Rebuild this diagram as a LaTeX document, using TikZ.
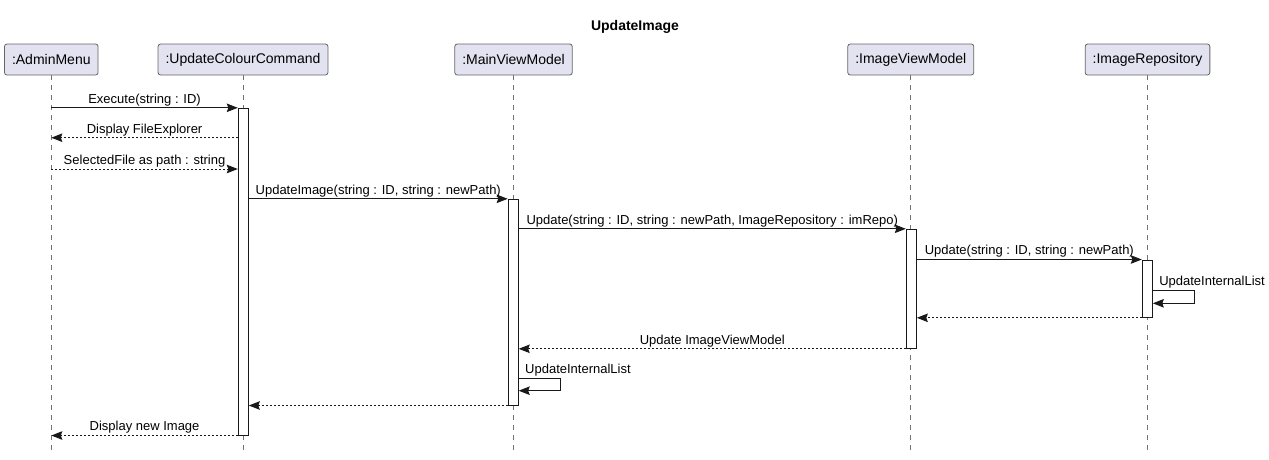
\documentclass[tikz,border=0pt]{standalone}
\usepackage{fontspec}
\setmainfont{Liberation Sans}
\usepackage{tikz}
\usetikzlibrary{positioning}
\usetikzlibrary{arrows.meta}
\usetikzlibrary{calc}
\definecolor{partfill}{HTML}{E2E2F0}
\tikzset{>={Stealth[length=11pt 0,width=8.5pt 0,inset=1.5pt 0]}}
\tikzstyle{partnode}=[draw=black!60,line width=0.8pt,fill=partfill,rounded corners=2.5pt,minimum height=31pt,inner xsep=7.5pt,font=\fontsize{14}{16}\selectfont]
\tikzstyle{actnode}=[draw=black!90,line width=1pt,fill=white,minimum width=10pt,inner sep=0pt]
\tikzstyle{lifeline}=[draw=black!55,line width=0.7pt,dash pattern=on 5pt off 5pt]
\tikzstyle{callaro}=[->,line width=1pt,color=black!90]
\tikzstyle{retaro}=[->,line width=1pt,color=black!90,dash pattern=on 2pt off 2pt]
\tikzstyle{msglabel}=[black,font=\fontsize{13}{15}\selectfont,inner sep=0pt,above=1.5pt]
\tikzstyle{selflabel}=[black,font=\fontsize{13}{15}\selectfont,inner sep=0pt,anchor=south west]

\begin{document}
\begin{tikzpicture}[x=1pt,y=-1pt]

	\useasboundingbox (0,0) rectangle (1269,459);

	% Title
	\node[font=\bfseries\fontsize{14}{16}\selectfont] (title) at (635,26.5) {UpdateImage};

	% Participants
	\node[partnode] (admin) at (51.3,59.5) {:AdminMenu};
	\node[partnode] (ucc) at (243,59.5) {:UpdateColourCommand};
	\node[partnode] (mvm) at (513.5,59.5) {:MainViewModel};
	\node[partnode] (ivm) at (910.8,59.5) {:ImageViewModel};
	\node[partnode] (repo) at (1147.5,59.5) {:ImageRepository};
	\foreach \p in {admin,ucc,mvm,ivm,repo}
		\draw[lifeline] (\p.south) -- (\p.south |- 0,451);

	% Activations
	\node[actnode,minimum height=326.7pt] (ucca) at (243.3,271.65) {};
	\node[actnode,minimum height=205.7pt] (mvma) at (513.2,302.15) {};
	\node[actnode,minimum height=119pt] (ivma) at (911.3,288.8) {};
	\node[actnode,minimum height=57.3pt] (repoa) at (1147.3,288.65) {};

	% Messages
	\draw[callaro] (admin.south |- ucca.north) -- node[msglabel] {Execute(string : ID)} (ucca.north west);
	\draw[retaro] (ucca.west |- 0,137.7) -- node[msglabel] {Display FileExplorer} (admin.south |- 0,137.7);
	\draw[retaro] (admin.south |- 0,169) -- node[msglabel] {SelectedFile as path : string} (ucca.west |- 0,169);
	\draw[callaro] (ucca.east |- mvma.north) -- node[msglabel] {UpdateImage(string : ID, string : newPath)} (mvma.north west);
	\draw[callaro] (mvma.east |- ivma.north) -- node[msglabel] {Update(string : ID, string : newPath, ImageRepository : imRepo)} (ivma.north west);
	\draw[callaro] (ivma.east |- repoa.north) -- node[msglabel] {Update(string : ID, string : newPath)} (repoa.north west);
	\draw[callaro] (repoa.east |- 0,290.7) node[selflabel,xshift=6pt,yshift=2pt] {UpdateInternalList} -- ++(42,0) -- ++(0,12.6) -- (repoa.east |- 0,303.3);
	\draw[retaro] (repoa.south west) -- (ivma.east |- repoa.south);
	\draw[retaro] (ivma.south west) -- node[msglabel] {Update ImageViewModel} (mvma.east |- ivma.south);
	\draw[callaro] (mvma.east |- 0,378.7) node[selflabel,xshift=6pt,yshift=2pt] {UpdateInternalList} -- ++(41.6,0) -- ++(0,12) -- (mvma.east |- 0,390.7);
	\draw[retaro] (mvma.south west) -- (ucca.east |- mvma.south);
	\draw[retaro] (ucca.south west) -- node[msglabel] {Display new Image} (admin.south |- ucca.south);

\end{tikzpicture}
\end{document}
